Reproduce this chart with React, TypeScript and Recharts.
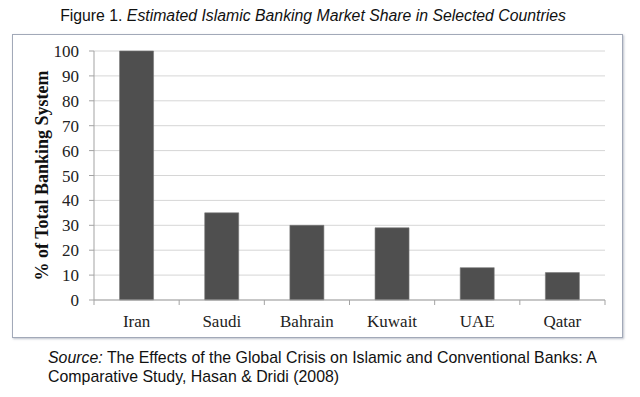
import React from "react";
import { Bar, BarChart, CartesianGrid, Label, XAxis, YAxis } from "recharts";

const COUNTRIES = ["Iran", "Saudi", "Bahrain", "Kuwait", "UAE", "Qatar"];
const MARKET_SHARE = [100, 35, 30, 29, 13, 11];
const Y_TICKS = [0, 10, 20, 30, 40, 50, 60, 70, 80, 90, 100];

const BAR_FILL = "#4f4f4f";
const AXIS = "#a3a3a3";
const GRID = "#d6d6d6";
const SERIF = "'Liberation Serif', 'Times New Roman', serif";
const SANS = "'Liberation Sans', Arial, Helvetica, sans-serif";

const TICK_SIZE = 5;
const TICK_MARGIN = 10;

const data = COUNTRIES.map((name, i) => ({ name, share: MARKET_SHARE[i] }));

// Excel-style category ticks: marks sit on the band edges, label in the middle
function CategoryTick(props: any) {
  const { x, y, payload, index, visibleTicksCount } = props;
  const half = payload?.offset ?? 0;
  const axisY = y - TICK_SIZE - TICK_MARGIN;
  const isLast = index === visibleTicksCount - 1;
  return (
    <g>
      <line x1={x - half} x2={x - half} y1={axisY} y2={axisY + TICK_SIZE} stroke={AXIS} />
      {isLast && <line x1={x + half} x2={x + half} y1={axisY} y2={axisY + TICK_SIZE} stroke={AXIS} />}
      <text x={x} y={y} dy="0.71em" textAnchor="middle" fill="#222" fontSize={17} fontFamily={SERIF}>
        {payload.value}
      </text>
    </g>
  );
}

export default function App() {
  return (
    <div style={{ position: "fixed", left: 0, top: 0, width: 640, height: 397, background: "#fff", overflow: "hidden" }}>
      <div
        style={{
          position: "absolute",
          left: 0,
          top: 7,
          width: 626,
          textAlign: "center",
          fontFamily: SANS,
          fontSize: 15.8,
          color: "#111",
        }}
      >
        Figure 1. <i>Estimated Islamic Banking Market Share in Selected Countries</i>
      </div>
      <div
        style={{
          position: "absolute",
          left: 12,
          top: 34,
          width: 609,
          height: 302,
          border: "1px solid #a2a9b8",
          boxShadow: "1px 1px 2px rgba(120,130,150,0.5)",
        }}
      />
      <div style={{ position: "absolute", left: 0, top: 0 }}>
        <BarChart
          width={640}
          height={397}
          data={data}
          margin={{ top: 51, right: 35, bottom: 67, left: 0 }}
          barCategoryGap="30%"
        >
          <CartesianGrid vertical={false} stroke={GRID} />
          <XAxis
            dataKey="name"
            height={30}
            axisLine={{ stroke: AXIS }}
            tickLine={false}
            tickSize={TICK_SIZE}
            tickMargin={TICK_MARGIN}
            tick={<CategoryTick />}
            interval={0}
          />
          <YAxis
            width={94}
            domain={[0, 100]}
            ticks={Y_TICKS}
            interval={0}
            axisLine={{ stroke: AXIS }}
            tickLine={{ stroke: AXIS }}
            tickSize={TICK_SIZE}
            tickMargin={TICK_MARGIN}
            tick={{ fontSize: 17, fontFamily: SERIF, fill: "#222" }}
          >
            <Label
              value="% of Total Banking System"
              angle={-90}
              position="center"
              dx={-5}
              style={{ fontFamily: SERIF, fontSize: 18, fontWeight: "bold", fill: "#111", textAnchor: "middle" }}
            />
          </YAxis>
          <Bar dataKey="share" fill={BAR_FILL} stroke="#777" strokeWidth={0.6} isAnimationActive={false} />
        </BarChart>
      </div>
      <div
        style={{
          position: "absolute",
          left: 48,
          top: 348,
          fontFamily: SANS,
          fontSize: 15.9,
          lineHeight: "19px",
          color: "#111",
        }}
      >
        <i>Source:</i> The Effects of the Global Crisis on Islamic and Conventional Banks: A
        <br />
        Comparative Study, Hasan &amp; Dridi (2008)
      </div>
    </div>
  );
}
